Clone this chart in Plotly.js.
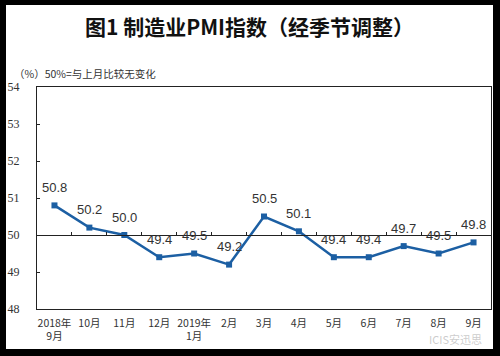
<!DOCTYPE html>
<html>
<head>
<meta charset="utf-8">
<script src="https://cdn.plot.ly/plotly-3.0.1.min.js"></script>
<style>
html,body{margin:0;padding:0;background:#000;width:500px;height:356px;overflow:hidden;}
#chart{position:absolute;left:6px;top:5px;width:487px;height:344px;background:#fff;}
</style>
</head>
<body>
<div id="chart"></div>
<script>
const categories = ["2018年<br>9月","10月","11月","12月","2019年<br>1月","2月","3月","4月","5月","6月","7月","8月","9月"];
const pmiValues = [50.8, 50.2, 50.0, 49.4, 49.5, 49.2, 50.5, 50.1, 49.4, 49.4, 49.7, 49.5, 49.8];
const valueLabels = ["50.8","50.2","50.0","49.4","49.5","49.2","50.5","50.1","49.4","49.4","49.7","49.5","49.8"];
const yTicks = [48, 49, 50, 51, 52, 53, 54];

const traces = [
  {
    x: categories, y: pmiValues, type: 'scatter', mode: 'lines+markers',
    line: {color: '#1c5fa3', width: 2.5},
    marker: {symbol: 'square', size: 6, color: '#1c5fa3'},
    hoverinfo: 'x+y', cliponaxis: false
  },
  {
    x: categories, y: pmiValues, xaxis: 'x2', type: 'scatter', mode: 'markers',
    marker: {opacity: 0}, hoverinfo: 'skip', showlegend: false
  }
];

const labelAnnotations = categories.map((c, i) => ({
  x: c, y: pmiValues[i], xref: 'x', yref: 'y', text: valueLabels[i],
  showarrow: false, yshift: 18, xanchor: 'center', yanchor: 'middle',
  font: {family: 'Liberation Sans, Arial', size: 13, color: '#333'}
}));

const layout = {
  width: 487, height: 344,
  margin: {l: 31, r: 2, t: 82, b: 40},
  paper_bgcolor: '#fff', plot_bgcolor: '#fff',
  showlegend: false,
  title: {
    text: '<b>图1 制造业PMI指数（经季节调整）</b>',
    font: {family: 'Noto Sans CJK SC', size: 21, color: '#111'},
    x: 0.5, xanchor: 'center', y: 0.935, yanchor: 'middle'
  },
  xaxis: {
    type: 'category', range: [-0.5, 12.5],
    showline: true, linecolor: '#222', linewidth: 1, mirror: true,
    showgrid: false, zeroline: false, ticks: '',
    tickfont: {family: 'Noto Sans CJK SC', size: 10.5, color: '#333'},
    ticklabelstandoff: 4, fixedrange: true
  },
  xaxis2: {
    type: 'category', overlaying: 'x', anchor: 'free', position: 1/3,
    range: [-0.5, 12.5], matches: 'x',
    showline: true, linecolor: '#222', linewidth: 1,
    showgrid: false, zeroline: false, ticks: 'inside', ticklen: 3, tickcolor: '#222',
    tickson: 'boundaries', showticklabels: false
  },
  yaxis: {
    range: [48, 54], tickvals: yTicks, ticktext: yTicks.map(String),
    showline: true, linecolor: '#222', linewidth: 1, mirror: true,
    showgrid: false, zeroline: false, ticks: 'inside', ticklen: 3, tickcolor: '#222',
    tickfont: {family: 'Liberation Serif, Times New Roman', size: 12, color: '#333'},
    ticklabelstandoff: 14, fixedrange: true
  },
  annotations: labelAnnotations.concat([
    {
      text: '（%）50%=与上月比较无变化', xref: 'paper', yref: 'paper',
      x: -0.055, y: 1.06, xanchor: 'left', yanchor: 'middle', showarrow: false,
      font: {family: 'Noto Sans CJK SC', size: 10.5, color: '#333'}
    },
    {
      text: 'ICIS安迅思', xref: 'paper', yref: 'paper',
      x: 0.985, y: -0.137, xanchor: 'right', yanchor: 'middle', showarrow: false,
      font: {family: 'Noto Sans CJK SC', size: 11, color: 'rgba(170,170,170,0.6)'}
    }
  ])
};

Plotly.newPlot('chart', traces, layout, {displayModeBar: false, staticPlot: true});
</script>
</body>
</html>
